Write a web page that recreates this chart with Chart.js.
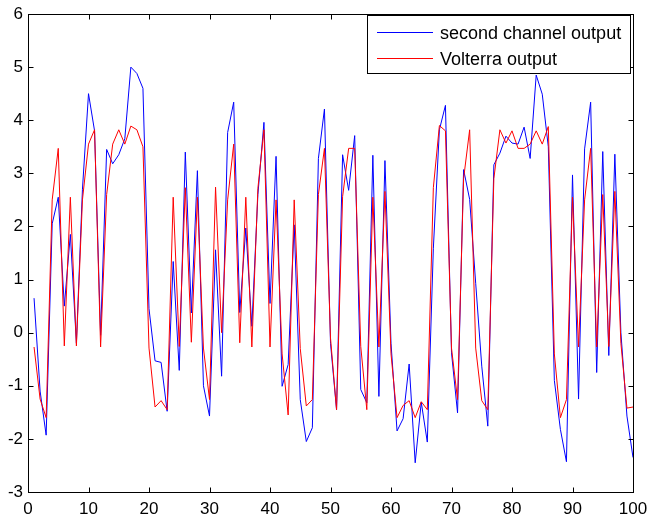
<!DOCTYPE html>
<html>
<head>
<meta charset="utf-8">
<script src="https://cdn.jsdelivr.net/npm/chart.js@4/dist/chart.umd.min.js"></script>
<style>
  html, body { margin: 0; padding: 0; background: #fff; }
  #wrap { width: 650px; height: 515px; }
</style>
</head>
<body>
<div id="wrap"><canvas id="graph1" width="650" height="515"></canvas></div>
<script>
// sample index 1..100
const samples = [
  1, 2, 3, 4, 5, 6, 7, 8, 9, 10, 11, 12, 13, 14, 15, 16, 17, 18, 19, 20,
  21, 22, 23, 24, 25, 26, 27, 28, 29, 30, 31, 32, 33, 34, 35, 36, 37, 38, 39, 40,
  41, 42, 43, 44, 45, 46, 47, 48, 49, 50, 51, 52, 53, 54, 55, 56, 57, 58, 59, 60,
  61, 62, 63, 64, 65, 66, 67, 68, 69, 70, 71, 72, 73, 74, 75, 76, 77, 78, 79, 80,
  81, 82, 83, 84, 85, 86, 87, 88, 89, 90, 91, 92, 93, 94, 95, 96, 97, 98, 99, 100
];

const channelOut = [
  0.65, -1.1, -1.93, 2.05, 2.55, 0.5, 1.85, -0.2, 2.7, 4.5,
  3.8, -0.05, 3.45, 3.18, 3.35, 3.65, 5.0, 4.88, 4.6, 0.45,
  -0.53, -0.56, -1.48, 1.34, -0.71, 3.4, 0.37, 3.05, -1.0, -1.57,
  1.56, -0.82, 3.77, 4.34, 0.38, 1.97, 0.12, 2.6, 3.96, 0.55,
  3.32, -1.01, -0.6, 2.03, -1.26, -2.05, -1.79, 3.28, 4.21, -0.2,
  -1.45, 3.35, 2.68, 3.71, -1.07, -1.32, 3.34, -1.2, 3.24, -0.2,
  -1.85, -1.62, -0.59, -2.45, -1.31, -2.06, 1.59, 3.82, 4.28, -0.38,
  -1.51, 3.07, 2.51, 0.93, -0.63, -1.76, 3.16, 3.38, 3.7, 3.57,
  3.55, 3.87, 3.28, 4.85, 4.49, 3.5, -0.9, -1.82, -2.43, 2.97,
  -1.25, 3.46, 4.34, -0.75, 3.41, -0.43, 3.36, 0.0, -1.57, -2.35
];

const volterraOut = [
  -0.27, -1.25, -1.6, 2.5, 3.47, -0.25, 2.55, -0.25, 2.5, 3.55,
  3.82, -0.27, 2.6, 3.55, 3.82, 3.55, 3.89, 3.82, 3.5, -0.29,
  -1.4, -1.28, -1.45, 2.55, -0.26, 2.73, -0.18, 2.55, -0.29, -1.26,
  2.74, 0.0, 2.5, 3.55, -0.19, 2.55, -0.27, 2.72, 3.82, -0.27,
  2.5, -0.4, -1.55, 2.5, -0.3, -1.38, -1.26, 2.6, 3.47, -0.1,
  -1.45, 2.56, 3.47, 3.47, -0.26, -1.45, 2.55, -0.27, 2.66, -0.4,
  -1.6, -1.37, -1.28, -1.6, -1.3, -1.45, 2.73, 3.9, 3.8, -0.29,
  -1.26, 2.9, 3.82, -0.29, -1.28, -1.45, 2.9, 3.82, 3.57, 3.8,
  3.47, 3.47, 3.55, 3.8, 3.55, 3.88, -0.4, -1.6, -1.26, 2.55,
  -0.27, 2.5, 3.47, -0.27, 2.6, -0.26, 2.66, -0.2, -1.42, -1.4
];

const seriesNames = ['second channel output', 'Volterra output'];
const xTicks = [0, 10, 20, 30, 40, 50, 60, 70, 80, 90, 100];
const yTicks = [-3, -2, -1, 0, 1, 2, 3, 4, 5, 6];

const FONT = '"Liberation Sans", Arial, Helvetica, sans-serif';

const toPoints = vals => vals.map((v, i) => ({ x: samples[i], y: v }));

// box axes with inward ticks plus a boxed legend in the top right corner
const matlabFrame = {
  id: 'matlabFrame',
  afterDraw(chart) {
    const { ctx, chartArea: a, scales } = chart;
    const L = Math.round(a.left) + 0.5, R = Math.round(a.right) + 0.5;
    const T = Math.round(a.top) + 0.5, B = Math.round(a.bottom) + 0.5;
    const tick = 5;
    ctx.save();
    ctx.strokeStyle = '#000';
    ctx.lineWidth = 1;
    ctx.strokeRect(L, T, R - L, B - T);
    ctx.beginPath();
    xTicks.forEach(v => {
      const px = Math.round(scales.x.getPixelForValue(v)) + 0.5;
      ctx.moveTo(px, B); ctx.lineTo(px, B - tick);
      ctx.moveTo(px, T); ctx.lineTo(px, T + tick);
    });
    yTicks.forEach(v => {
      const py = Math.round(scales.y.getPixelForValue(v)) + 0.5;
      ctx.moveTo(L, py); ctx.lineTo(L + tick, py);
      ctx.moveTo(R, py); ctx.lineTo(R - tick, py);
    });
    ctx.stroke();

    // legend
    const lx = 367.5, ly = 15.5, lw = 263, lh = 58;
    ctx.fillStyle = '#fff';
    ctx.fillRect(lx, ly, lw, lh);
    ctx.strokeRect(lx, ly, lw, lh);
    const rows = [
      { label: seriesNames[0], color: '#0000ff', y: 32 },
      { label: seriesNames[1], color: '#ff0000', y: 58 }
    ];
    ctx.font = '18px ' + FONT;
    ctx.textBaseline = 'alphabetic';
    ctx.textAlign = 'left';
    rows.forEach(r => {
      ctx.strokeStyle = r.color;
      ctx.beginPath();
      ctx.moveTo(377, r.y + 0.5); ctx.lineTo(433, r.y + 0.5);
      ctx.stroke();
      ctx.fillStyle = '#000';
      ctx.fillText(r.label, 440, r.y + 6.5);
    });
    ctx.restore();
  }
};

const graph = new Chart(document.getElementById('graph1'), {
  type: 'line',
  data: {
    datasets: [
      {
        label: seriesNames[0],
        data: toPoints(channelOut),
        borderColor: '#0000ff',
        borderWidth: 1,
        pointRadius: 0,
        tension: 0,
        order: 1
      },
      {
        label: seriesNames[1],
        data: toPoints(volterraOut),
        borderColor: '#ff0000',
        borderWidth: 1,
        pointRadius: 0,
        tension: 0,
        order: 0
      }
    ]
  },
  options: {
    responsive: false,
    animation: false,
    layout: { padding: { top: 14, right: 17, left: 0, bottom: 0 } },
    plugins: {
      legend: { display: false },
      tooltip: { enabled: false }
    },
    scales: {
      x: {
        type: 'linear',
        min: 0,
        max: 100,
        afterBuildTicks: s => { s.ticks = xTicks.map(v => ({ value: v })); },
        afterFit: s => { s.height = 23; s.paddingLeft = 0; s.paddingRight = 0; },
        grid: { display: false, drawTicks: false },
        border: { display: false },
        ticks: { color: '#000', padding: 7, maxRotation: 0, font: { family: FONT, size: 17 } }
      },
      y: {
        min: -3,
        max: 6,
        afterBuildTicks: s => { s.ticks = yTicks.map(v => ({ value: v })); },
        afterFit: s => { s.width = 28; s.paddingTop = 0; s.paddingBottom = 0; },
        grid: { display: false, drawTicks: false },
        border: { display: false },
        ticks: { color: '#000', padding: 5, font: { family: FONT, size: 17 } }
      }
    }
  },
  plugins: [matlabFrame]
});
</script>
</body>
</html>
